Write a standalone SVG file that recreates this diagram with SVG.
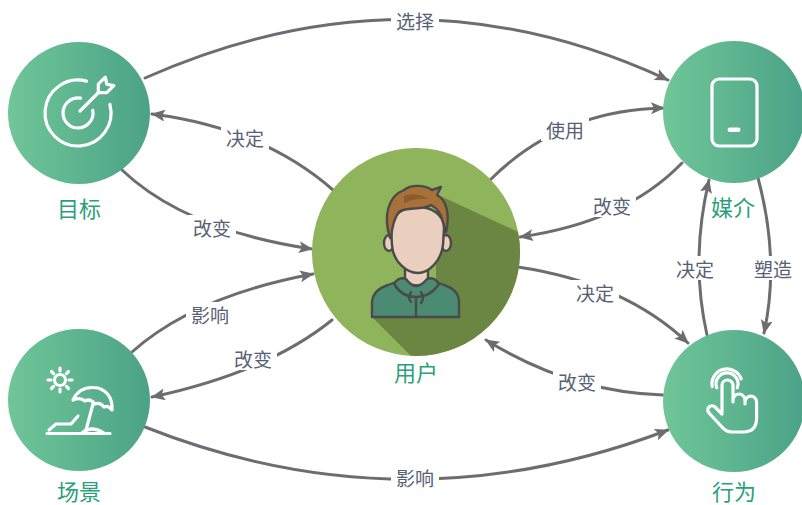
<svg xmlns="http://www.w3.org/2000/svg" width="802" height="505" viewBox="0 0 802 505">
  <style>
    .edge { fill: none; stroke: #6d6d71; stroke-width: 3; stroke-linecap: round; marker-end: url(#arrow); }
    .gap { fill: #ffffff; }
    .elabel { font-family: "Noto Sans CJK SC", "Noto Sans", sans-serif; font-size: 19px; fill: #566174; text-anchor: middle; dominant-baseline: central; }
    .nlabel { font-family: "Noto Sans CJK SC", "Noto Sans", sans-serif; font-size: 22px; fill: #2b9f7b; text-anchor: middle; dominant-baseline: central; }
    .disc { fill: url(#green); }
    .icon { fill: none; stroke: #ffffff; stroke-width: 3.2; stroke-linecap: round; stroke-linejoin: round; }
    .ink { stroke: #4a4a4a; stroke-width: 2.4; stroke-linejoin: round; stroke-linecap: round; }
  </style>
  <defs>
    <linearGradient id="green" x1="0" y1="0" x2="1" y2="0">
      <stop offset="0" stop-color="#70c698"/>
      <stop offset="1" stop-color="#4ba287"/>
    </linearGradient>
    <marker id="arrow" markerUnits="userSpaceOnUse" markerWidth="16" markerHeight="14" refX="13" refY="6" orient="auto">
      <path d="M0,0 L14,6 L0,12 L3,6 Z" fill="#6d6d71"/>
    </marker>
    <clipPath id="userClip">
      <circle cx="416" cy="252" r="104"/>
    </clipPath>
  </defs>

  <!-- connectors -->
  <g id="connectors">
    <g id="e-select">
      <path class="edge" d="M145,78 Q410,-40 668,80"/>
      <rect class="gap" x="391" y="8" width="48" height="24"/>
      <text class="elabel" x="415" y="20">选择</text>
    </g>
    <g id="e-user-goal">
      <path class="edge" d="M333,190 Q262,128 152,114"/>
      <rect class="gap" x="221" y="125" width="48" height="24"/>
      <text class="elabel" x="245" y="137">决定</text>
    </g>
    <g id="e-goal-user">
      <path class="edge" d="M122,170 Q185,230 312,249"/>
      <rect class="gap" x="188" y="215" width="48" height="24"/>
      <text class="elabel" x="212" y="227">改变</text>
    </g>
    <g id="e-user-media">
      <path class="edge" d="M490,180 Q560,110 664,108"/>
      <rect class="gap" x="541" y="117" width="48" height="24"/>
      <text class="elabel" x="565" y="129">使用</text>
    </g>
    <g id="e-media-user">
      <path class="edge" d="M682,163 Q625,222 520,237"/>
      <rect class="gap" x="588" y="193" width="48" height="24"/>
      <text class="elabel" x="612" y="205">改变</text>
    </g>
    <g id="e-scene-user">
      <path class="edge" d="M132,352 Q195,296 313,274"/>
      <rect class="gap" x="186" y="302" width="48" height="24"/>
      <text class="elabel" x="210" y="314">影响</text>
    </g>
    <g id="e-user-scene">
      <path class="edge" d="M332,320 Q268,372 152,397"/>
      <rect class="gap" x="229" y="346" width="48" height="24"/>
      <text class="elabel" x="253" y="358">改变</text>
    </g>
    <g id="e-user-action">
      <path class="edge" d="M518,267 Q625,283 688,343"/>
      <rect class="gap" x="571" y="280" width="48" height="24"/>
      <text class="elabel" x="595" y="292">决定</text>
    </g>
    <g id="e-action-user">
      <path class="edge" d="M663,395 Q570,392 486,340"/>
      <rect class="gap" x="553" y="369" width="48" height="24"/>
      <text class="elabel" x="577" y="381">改变</text>
    </g>
    <g id="e-action-media">
      <path class="edge" d="M707,335 Q690,260 709,180"/>
      <rect class="gap" x="671" y="256" width="48" height="24"/>
      <text class="elabel" x="695" y="268">决定</text>
    </g>
    <g id="e-media-action">
      <path class="edge" d="M758,178 Q780,260 764,333"/>
      <rect class="gap" x="749" y="256" width="48" height="24"/>
      <text class="elabel" x="773" y="268">塑造</text>
    </g>
    <g id="e-scene-action">
      <path class="edge" d="M145,427 Q405,530 668,430"/>
      <rect class="gap" x="391" y="465" width="48" height="24"/>
      <text class="elabel" x="415" y="477">影响</text>
    </g>
  </g>

  <!-- goal node: target with arrow -->
  <g id="node-goal">
    <circle class="disc" cx="79" cy="113" r="71"/>
    <path class="icon" d="M109.9,104.5 A33 33 0 1 1 86.5,81.1"/>
    <path class="icon" d="M92.8,110.4 A15 15 0 1 1 80.6,98.2"/>
    <path class="icon" d="M80,111 L99,92"/>
    <g transform="translate(99,92) rotate(-45)">
      <path class="icon" d="M-1,0 L5,-6 L15,-6 L11,0 L15,6 L5,6 Z"/>
    </g>
    <text class="nlabel" x="79" y="207">目标</text>
  </g>

  <!-- media node: phone -->
  <g id="node-media">
    <circle class="disc" cx="734" cy="112" r="71"/>
    <rect class="icon" x="712" y="79" width="45" height="67" rx="7"/>
    <rect x="727.5" y="127.5" width="13" height="4.6" rx="2.3" fill="#ffffff"/>
    <text class="nlabel" x="733" y="206">媒介</text>
  </g>

  <!-- user node: avatar with long shadow -->
  <g id="node-user">
    <circle cx="416" cy="252" r="104" fill="#8fb45b"/>
    <polygon points="436,194 570,256 570,440 495,440 372,317 436,317" fill="#6b8543" clip-path="url(#userClip)"/>
    <!-- hoodie -->
    <path class="ink" fill="#4b8b73" d="M372,317 L372,302 Q373,290 388,285 L404,279 Q416,275 428,279 L444,285 Q459,290 459,302 L459,317 Z"/>
    <!-- neck -->
    <path class="ink" fill="#eacfbe" d="M405,262 L405,281 Q416,290 428,281 L428,262 Z"/>
    <!-- hood collar -->
    <path class="ink" fill="#4b8b73" d="M394,284 Q399,276 406,279 Q416,293 427,279 Q434,276 439,284 Q430,297 416,297 Q402,297 394,284 Z"/>
    <path class="ink" fill="none" d="M416,297 L416,317"/>
    <path class="ink" fill="none" d="M411,292 Q407,298 411,302 M421,292 Q425,298 421,303"/>
    <!-- ears -->
    <ellipse class="ink" cx="389" cy="243" rx="5" ry="8" fill="#eacfbe"/>
    <ellipse class="ink" cx="446" cy="243" rx="5" ry="8" fill="#eacfbe"/>
    <!-- face -->
    <path class="ink" fill="#eacfbe" d="M391,228 C391,200 444,200 444,228 L443,245 C441,262 428,273 418,273 C407,273 393,262 392,245 Z"/>
    <!-- hair -->
    <path class="ink" fill="#a8713a" d="M390,238 C383,216 388,196 404,190 C411,184 425,185 432,190 L441,187 L437,195 C447,200 450,216 446,232 L443,222 C441,213 437,208 431,205 C421,211 406,206 399,212 C394,218 392,228 391,238 Z"/>
    <path fill="#8d5c2c" d="M404,196 C412,193 422,194 428,199 C420,198 410,199 404,204 Z"/>
    <text class="nlabel" x="416" y="371">用户</text>
  </g>

  <!-- scene node: beach umbrella and sun -->
  <g id="node-scene">
    <circle class="disc" cx="79" cy="400" r="71"/>
    <g class="icon" stroke-width="2.4">
      <circle cx="60" cy="380" r="5.5"/>
      <path d="M60,368 L60,371 M60,389 L60,392 M48,380 L51,380 M69,380 L72,380 M51.5,371.5 L53.6,373.6 M66.4,386.4 L68.5,388.5 M68.5,371.5 L66.4,373.6 M53.6,386.4 L51.5,388.5"/>
      <path d="M73,400 Q80,385 98,388 Q113,393 112,410 Q108,405 104,407 Q100,402 95,404 Q90,398 85,401 Q80,397 73,400 Z"/>
      <path d="M93,404 L86,430"/>
      <path d="M49,430 L56,424 L71,424 L78,416"/>
      <path d="M47,433.5 L110,433.5 M82,433 Q91,425 104,433"/>
    </g>
    <text class="nlabel" x="79" y="490">场景</text>
  </g>

  <!-- action node: pointing hand -->
  <g id="node-action">
    <circle class="disc" cx="734" cy="401" r="71"/>
    <path class="icon" d="M722,412 L722,385.5 A5.5 5.5 0 0 1 733,385.5 L733,402 L733,400 A6 6 0 0 1 745,400 L745,404 L745,402 A5.8 5.8 0 0 1 756.6,402 L756.6,418 Q756.6,432 743,432 L732,432 Q726,432 722,427 L709,413 A4 4 0 0 1 715,407 L722,414"/>
    <path class="icon" stroke-width="2.6" d="M716.7,387.8 A11 11 0 1 1 737.3,387.8"/>
    <path class="icon" stroke-width="2.6" d="M712.2,386.6 A15 15 0 0 1 741.1,378.9"/>
    <text class="nlabel" x="734" y="490">行为</text>
  </g>
</svg>
